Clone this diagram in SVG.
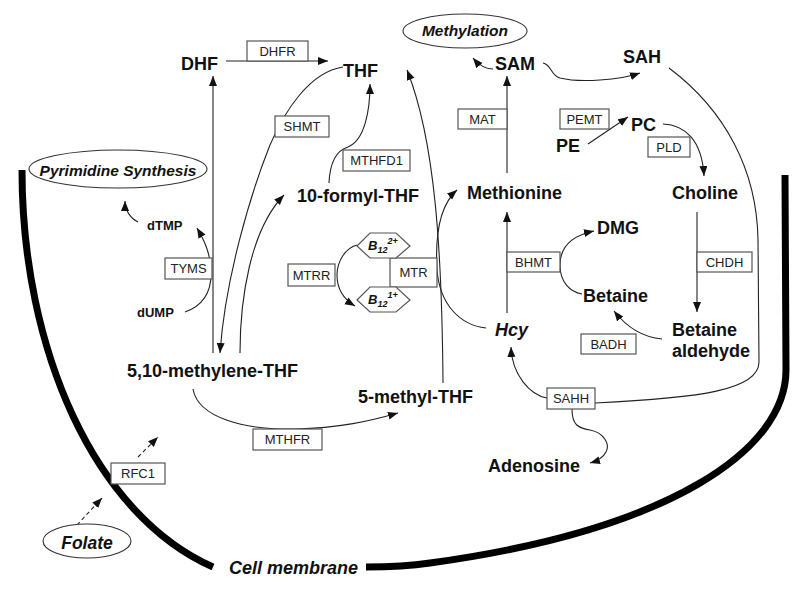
<svg xmlns="http://www.w3.org/2000/svg" width="800" height="589" viewBox="0 0 800 589">
<defs>
<marker id="ah" markerUnits="userSpaceOnUse" markerWidth="11" markerHeight="9" refX="10" refY="4" orient="auto">
<path d="M0,0 L10,4 L0,8 z" fill="#111"/>
</marker>
<style>
.m{font-family:"Liberation Sans",Arial,sans-serif;font-weight:bold;font-size:18px;fill:#111}
.s{font-family:"Liberation Sans",Arial,sans-serif;font-weight:bold;font-size:13px;fill:#111}
.i{font-style:italic}
.e{font-family:"Liberation Sans",Arial,sans-serif;font-size:13px;fill:#222;text-anchor:middle}
.bx{fill:#fff;stroke:#555;stroke-width:1.2}
.el{fill:#fff;stroke:#333;stroke-width:1.1}
.c{fill:none;stroke:#222;stroke-width:1.1}
.a{marker-end:url(#ah)}
.d{stroke-dasharray:4,3}
.mem{fill:none;stroke:#000;stroke-width:7}
</style>
</defs>
<rect width="800" height="589" fill="#fff"/>

<g id="membrane">
<path class="mem" d="M22,170 C22,350 95,515 213,567"/>
<path class="mem" d="M785,175 L786,370 C786,450 670,530 430,563 C410,566 385,567 366,567"/>
</g>

<g id="connectors">
<path class="c a" d="M226,61 L328,61"/>
<path class="c a" d="M213,353 L213,76"/>
<path class="c a" d="M343,67 C310,72 285,110 270,145 C250,195 225,280 220,353"/>
<path class="c a" d="M240,353 C240,300 250,230 284,195"/>
<path class="c a" d="M329,183 C330,160 338,150 348,147 C365,140 370,110 370,84"/>
<path class="c a" d="M185,312 C205,305 212,290 211,270 C210,252 204,240 197,228"/>
<path class="c a" d="M138,222 C130,218 125,210 125,201"/>
<path class="c a" d="M193,389 C198,418 245,430 295,429 C340,428 370,421 398,413"/>
<path class="c a" d="M443,383 C442,250 435,140 407,70"/>
<path class="c a" d="M486,328 C460,325 440,305 437,270 C435,235 440,205 457,190"/>
<path class="c a" d="M357,245 C345,248 337,262 337,275 C337,290 345,300 355,306"/>
<path class="c a" d="M507,313 L507,212"/>
<path class="c a" d="M582,294 C570,292 560,282 560,265 C560,245 575,235 594,231"/>
<path class="c a" d="M697,212 L697,312"/>
<path class="c a" d="M662,339 C640,337 625,325 614,311"/>
<path class="c a" d="M547,398 C530,395 512,375 511,347"/>
<path class="c a" d="M572,409 C572,425 578,428 590,430 C605,433 610,445 606,452 C603,458 597,461 590,463"/>
<path class="c" d="M669,68 C725,110 757,170 758,240 L759,362 C759,390 700,398 595,403"/>
<path class="c a" d="M507,173 L507,76"/>
<path class="c a" d="M493,69 C485,69 478,64 473,58"/>
<path class="c a" d="M543,63 C552,65 550,75 560,78 C580,83 620,80 640,73"/>
<path class="c a" d="M588,144 L628,117"/>
<path class="c a" d="M663,124 C685,125 702,140 704,176"/>
<path class="c a d" d="M77,525 L102,498"/>
<path class="c a d" d="M138,457 L158,437"/>
</g>

<g id="n-methylation"><ellipse class="el" cx="465" cy="31" rx="62" ry="17"/><text class="m i" x="465" y="36" font-size="15.5" text-anchor="middle" style="font-size:15.5px">Methylation</text></g>
<g id="n-pyrimidine"><ellipse class="el" cx="118" cy="169" rx="89" ry="19"/><text class="m i" x="118" y="176" text-anchor="middle" style="font-size:15.5px">Pyrimidine Synthesis</text></g>
<g id="n-folate"><ellipse class="el" cx="87" cy="541" rx="44" ry="17"/><text class="m i" x="87" y="549" text-anchor="middle" style="font-size:17.5px">Folate</text></g>

<g id="n-dhf"><text class="m" x="181" y="70">DHF</text></g>
<g id="n-thf"><text class="m" x="343" y="77">THF</text></g>
<g id="n-sam"><text class="m" x="495" y="70">SAM</text></g>
<g id="n-sah"><text class="m" x="623" y="63">SAH</text></g>
<g id="n-pe"><text class="m" x="556" y="152">PE</text></g>
<g id="n-pc"><text class="m" x="631" y="131">PC</text></g>
<g id="n-methionine"><text class="m" x="467" y="199">Methionine</text></g>
<g id="n-choline"><text class="m" x="672" y="199">Choline</text></g>
<g id="n-formyl"><text class="m" x="297" y="202">10-formyl-THF</text></g>
<g id="n-dmg"><text class="m" x="597" y="234">DMG</text></g>
<g id="n-betaine"><text class="m" x="583" y="302">Betaine</text></g>
<g id="n-hcy"><text class="m i" x="495" y="336">Hcy</text></g>
<g id="n-betald"><text class="m" x="672" y="336">Betaine</text><text class="m" x="672" y="357">aldehyde</text></g>
<g id="n-methylene"><text class="m" x="127" y="377">5,10-methylene-THF</text></g>
<g id="n-methyl"><text class="m" x="358" y="403">5-methyl-THF</text></g>
<g id="n-adenosine"><text class="m" x="488" y="472">Adenosine</text></g>
<g id="n-dtmp"><text class="s" x="147" y="230">dTMP</text></g>
<g id="n-dump"><text class="s" x="137" y="317">dUMP</text></g>
<g id="n-cellmembrane"><text class="m i" x="229" y="574">Cell membrane</text></g>

<g id="e-dhfr"><rect class="bx" x="247" y="41" width="61" height="20"/><text class="e" x="277.5" y="55.5">DHFR</text></g>
<g id="e-shmt"><rect class="bx" x="275" y="116" width="54" height="21"/><text class="e" x="302" y="131">SHMT</text></g>
<g id="e-mthfd1"><rect class="bx" x="343" y="150" width="67" height="21"/><text class="e" x="376.5" y="165">MTHFD1</text></g>
<g id="e-tyms"><rect class="bx" x="165" y="258" width="47" height="21"/><text class="e" x="188.5" y="273">TYMS</text></g>
<g id="e-mtrr"><rect class="bx" x="288" y="264" width="47" height="22"/><text class="e" x="311.5" y="279.5">MTRR</text></g>
<g id="e-mtr"><rect class="bx" x="390" y="258" width="47" height="29"/><text class="e" x="413.5" y="277">MTR</text></g>
<g id="n-b12a"><polygon class="bx" points="357,246 370,233 396,233 410,246 396,258 370,258"/><text class="s i" x="368" y="250" style="font-size:13px">B<tspan dy="3" style="font-size:9px">12</tspan><tspan dy="-9" style="font-size:9px">2+</tspan></text></g>
<g id="n-b12b"><polygon class="bx" points="357,300 370,287 396,287 410,300 396,312 370,312"/><text class="s i" x="368" y="304" style="font-size:13px">B<tspan dy="3" style="font-size:9px">12</tspan><tspan dy="-9" style="font-size:9px">1+</tspan></text></g>
<g id="e-mthfr"><rect class="bx" x="253" y="429" width="69" height="21"/><text class="e" x="287.5" y="444">MTHFR</text></g>
<g id="e-rfc1"><rect class="bx" x="111" y="463" width="54" height="21"/><text class="e" x="138" y="478">RFC1</text></g>
<g id="e-mat"><rect class="bx" x="458" y="109" width="49" height="20"/><text class="e" x="482.5" y="123.5">MAT</text></g>
<g id="e-pemt"><rect class="bx" x="560" y="109" width="49" height="20"/><text class="e" x="584.5" y="123.5">PEMT</text></g>
<g id="e-pld"><rect class="bx" x="648" y="137" width="42" height="20"/><text class="e" x="669" y="151.5">PLD</text></g>
<g id="e-bhmt"><rect class="bx" x="507" y="252" width="53" height="20"/><text class="e" x="533.5" y="266.5">BHMT</text></g>
<g id="e-chdh"><rect class="bx" x="697" y="252" width="55" height="20"/><text class="e" x="724.5" y="266.5">CHDH</text></g>
<g id="e-badh"><rect class="bx" x="581" y="334" width="55" height="20"/><text class="e" x="608.5" y="348.5">BADH</text></g>
<g id="e-sahh"><rect class="bx" x="547" y="388" width="48" height="21"/><text class="e" x="571" y="403">SAHH</text></g>
</svg>
